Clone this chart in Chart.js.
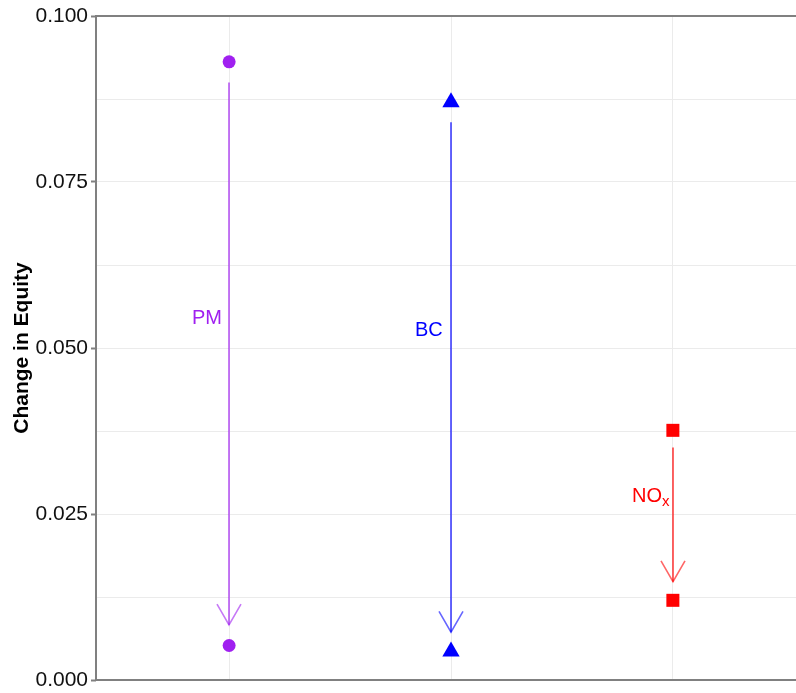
<!DOCTYPE html>
<html>
<head>
<meta charset="utf-8">
<script src="https://cdn.jsdelivr.net/npm/chart.js@4/dist/chart.umd.min.js"></script>
<style>
  html, body { margin: 0; padding: 0; background: #fff; overflow: hidden; }
  #wrap { width: 816px; height: 693px; }
</style>
</head>
<body>
<div id="wrap"><canvas id="c" width="816" height="693"></canvas></div>
<script>
// ---- data ----
const categories = ['PM', 'BC', 'NOx'];
const categoryPositions = [1, 2, 3];
const startValues = [0.0931, 0.0870, 0.0376];   // upper markers
const endValues   = [0.0052, 0.0043, 0.0120];   // lower markers
const arrowFrom   = [0.0900, 0.0840, 0.0350];   // arrow tail
const arrowTo     = [0.0083, 0.0072, 0.0148];   // arrow head tip
const labelValues = [0.0548, 0.0529, 0.0280];   // label vertical centre
const yTickValues = [0, 0.025, 0.05, 0.075, 0.1];
const pointColors = ['#A020F0', '#0000FF', '#FF0000'];
const arrowColors = ['rgba(160,32,240,0.6)', 'rgba(0,0,255,0.6)', 'rgba(255,0,0,0.6)'];
const pointShapes = ['circle', 'triangle', 'rect'];
const pointSizes  = [6.5, 10, 9.2];

const FONT = "'Liberation Sans', Arial, sans-serif";

function isMajor(v) {
  return yTickValues.some(t => Math.abs(t - v) < 1e-9);
}

const datasets = categories.map((c, i) => ({
  label: c,
  data: [
    { x: categoryPositions[i], y: startValues[i] },
    { x: categoryPositions[i], y: endValues[i] }
  ],
  showLine: false,
  pointStyle: pointShapes[i],
  pointRadius: pointSizes[i],
  pointHoverRadius: pointSizes[i],
  backgroundColor: pointColors[i],
  borderColor: pointColors[i],
  borderWidth: 0
}));

const arrowPlugin = {
  id: 'arrows',
  beforeDatasetsDraw(chart) {
    const ctx = chart.ctx;
    const xs = chart.scales.x, ys = chart.scales.y;
    ctx.save();
    categories.forEach((c, i) => {
      const x = Math.round(xs.getPixelForValue(categoryPositions[i]));
      const y1 = ys.getPixelForValue(arrowFrom[i]);
      const y2 = ys.getPixelForValue(arrowTo[i]);
      ctx.strokeStyle = arrowColors[i];
      ctx.lineWidth = 2;
      ctx.lineCap = 'butt';
      ctx.beginPath();
      ctx.moveTo(x, y1);
      ctx.lineTo(x, y2);
      ctx.stroke();
      // open arrow head
      const dir = Math.atan2(y2 - y1, 0);
      const len = 24, ang = Math.PI / 6;
      ctx.lineWidth = 1.6;
      ctx.lineJoin = 'miter';
      ctx.beginPath();
      ctx.moveTo(x - len * Math.cos(dir - ang), y2 - len * Math.sin(dir - ang));
      ctx.lineTo(x, y2);
      ctx.lineTo(x - len * Math.cos(dir + ang), y2 - len * Math.sin(dir + ang));
      ctx.stroke();
    });
    ctx.restore();
  },
  afterDatasetsDraw(chart) {
    const ctx = chart.ctx;
    const xs = chart.scales.x, ys = chart.scales.y;
    ctx.save();
    ctx.textBaseline = 'alphabetic';
    categories.forEach((c, i) => {
      const cx = xs.getPixelForValue(categoryPositions[i] - 0.1);
      const base = ys.getPixelForValue(labelValues[i]) + 7.5;
      ctx.fillStyle = pointColors[i];
      if (c === 'NOx') {
        ctx.font = '20px ' + FONT;
        const w1 = ctx.measureText('NO').width;
        ctx.font = '15px ' + FONT;
        const w2 = ctx.measureText('x').width;
        const left = cx - (w1 + w2) / 2;
        ctx.textAlign = 'left';
        ctx.font = '20px ' + FONT;
        ctx.fillText('NO', left, base);
        ctx.font = '15px ' + FONT;
        ctx.fillText('x', left + w1, base + 4);
      } else {
        ctx.font = '20px ' + FONT;
        ctx.textAlign = 'center';
        ctx.fillText(c, cx, base);
      }
    });
    ctx.restore();
  },
  afterDraw(chart) {
    const ctx = chart.ctx;
    const a = chart.chartArea;
    ctx.save();
    ctx.strokeStyle = '#808080';
    ctx.lineWidth = 2;
    ctx.beginPath();
    ctx.moveTo(a.right, a.top);
    ctx.lineTo(a.left, a.top);
    ctx.lineTo(a.left, a.bottom);
    ctx.lineTo(a.right, a.bottom);
    ctx.stroke();
    ctx.restore();
  }
};

new Chart(document.getElementById('c'), {
  type: 'scatter',
  data: { datasets },
  plugins: [arrowPlugin],
  options: {
    responsive: false,
    animation: false,
    events: [],
    layout: { padding: { left: 0, top: 16, right: 4, bottom: 13 } },
    plugins: { legend: { display: false }, tooltip: { enabled: false } },
    scales: {
      x: {
        type: 'linear',
        min: 0.4,
        max: 3.6,
        afterBuildTicks(axis) {
          axis.ticks = categoryPositions.map(v => ({ value: v }));
        },
        afterFit(scale) {
          scale.height = 0;
          scale.paddingLeft = 0; scale.paddingRight = 0;
        },
        ticks: { display: false },
        grid: { color: '#ebebeb', lineWidth: 1, drawTicks: false },
        border: { display: false }
      },
      y: {
        type: 'linear',
        min: 0,
        max: 0.1,
        afterBuildTicks(axis) {
          const t = [];
          for (let k = 0; k <= 8; k++) t.push({ value: k * 0.0125 });
          axis.ticks = t;
        },
        afterFit(scale) {
          scale.width = 96;
          scale.paddingTop = 0; scale.paddingBottom = 0;
        },
        ticks: {
          padding: 3,
          color: '#111',
          font: { family: FONT, size: 21 },
          callback: (v) => isMajor(v) ? v.toFixed(3) : ''
        },
        grid: {
          color: '#ebebeb',
          lineWidth: 1,
          tickLength: 5,
          tickWidth: 2,
          tickColor: (ctx) => isMajor(ctx.tick.value) ? '#808080' : 'rgba(0,0,0,0)'
        },
        border: { display: false },
        title: {
          display: true,
          text: 'Change in Equity',
          color: '#000',
          font: { family: FONT, size: 21, weight: 'bold' },
          padding: 10
        }
      }
    }
  }
});
</script>
</body>
</html>
